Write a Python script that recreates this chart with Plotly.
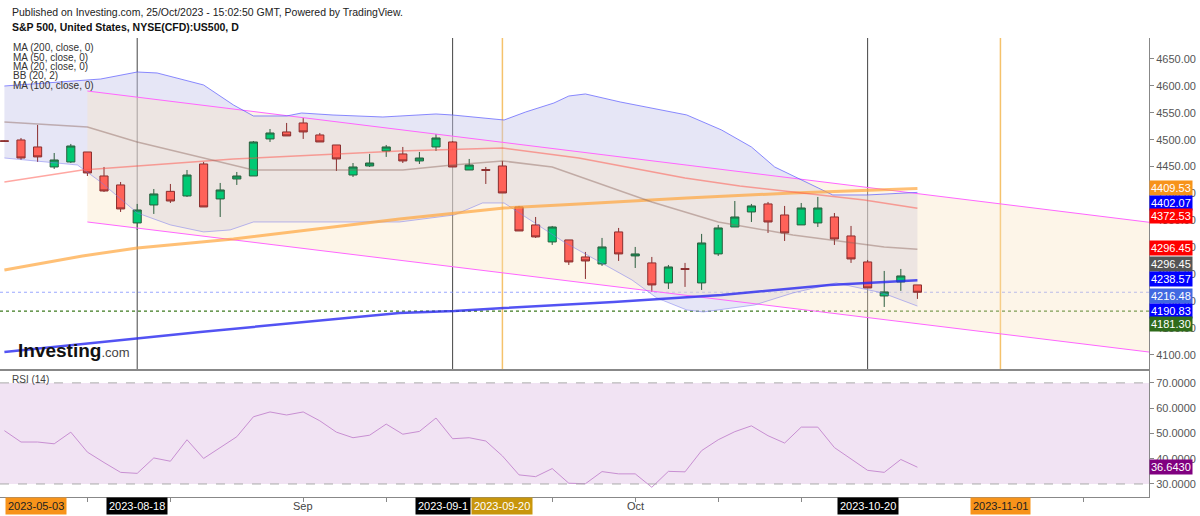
import plotly.graph_objects as go

# ---------------- data ----------------
idx = list(range(-1, 55))  # trading-day index, 7 = 2023-08-18
open_ = [4498.0, 4499.5, 4486.5, 4449.3, 4458.6, 4477.2, 4432.6, 4415.9, 4345.3, 4378.7, 4404.0,
         4395.4, 4454.9, 4389.9, 4427.0, 4432.6, 4501.4, 4514.4, 4531.1, 4508.8, 4490.2,
         4434.4, 4451.2, 4479.0, 4473.5, 4460.5, 4486.5, 4495.8, 4443.7, 4444.5, 4451.2,
         4375.0, 4341.6, 4310.0, 4313.7, 4282.1, 4269.1, 4328.6, 4284.0, 4271.0, 4233.8,
         4260.5, 4233.8, 4287.7, 4337.8, 4365.7, 4380.6, 4360.1, 4341.6, 4345.3, 4356.4,
         4321.1, 4272.8, 4209.6, 4235.6, 4230.1]
high = [4499.0, 4503.2, 4527.4, 4475.3, 4492.1, 4477.2, 4449.3, 4421.4, 4380.6, 4408.4, 4417.7,
        4443.7, 4458.6, 4419.6, 4440.0, 4497.6, 4519.9, 4531.1, 4540.4, 4512.5, 4490.2,
        4456.7, 4473.5, 4490.2, 4486.5, 4477.2, 4510.6, 4497.6, 4464.2, 4449.3, 4460.5,
        4376.9, 4356.4, 4339.7, 4313.7, 4291.4, 4317.4, 4336.0, 4300.7, 4282.1, 4267.2,
        4271.0, 4324.9, 4341.6, 4386.1, 4380.6, 4384.3, 4376.9, 4382.4, 4393.6, 4363.8,
        4339.7, 4276.5, 4256.1, 4259.8, 4230.1]
low = [4496.0, 4462.3, 4458.6, 4445.6, 4456.8, 4432.6, 4402.9, 4365.7, 4332.3, 4362.0, 4382.4,
       4393.6, 4375.0, 4356.4, 4415.9, 4432.6, 4495.8, 4507.0, 4501.4, 4495.8, 4441.9,
       4430.7, 4449.3, 4468.0, 4456.7, 4454.9, 4479.0, 4449.3, 4443.7, 4417.7, 4401.0,
       4330.4, 4317.4, 4304.4, 4267.2, 4241.2, 4265.4, 4274.6, 4261.6, 4217.1, 4222.6,
       4226.4, 4220.8, 4284.0, 4337.8, 4347.1, 4326.7, 4311.8, 4341.6, 4337.8, 4304.4,
       4271.0, 4224.5, 4189.2, 4219.0, 4204.1]
close = [4497.0, 4466.0, 4468.0, 4462.3, 4488.3, 4438.2, 4404.7, 4371.3, 4369.4, 4399.2, 4386.1,
         4434.4, 4375.0, 4406.6, 4432.6, 4495.8, 4512.5, 4507.0, 4514.4, 4495.8, 4464.2,
         4449.3, 4456.7, 4486.5, 4460.5, 4466.0, 4503.2, 4449.3, 4453.0, 4443.0, 4401.0,
         4330.4, 4319.3, 4337.8, 4272.8, 4274.6, 4300.7, 4287.7, 4287.7, 4230.1, 4263.5,
         4259.0, 4308.1, 4336.0, 4356.4, 4376.9, 4347.1, 4326.7, 4373.1, 4373.1, 4315.5,
         4278.4, 4224.5, 4217.1, 4246.8, 4216.48]

rsi = [51.1, 46.6, 46.6, 45.9, 50.5, 42.6, 38.5, 34.6, 34.2, 40.3, 39.0, 47.5, 40.1, 44.4, 48.7,
       56.6, 58.5, 57.3, 58.5, 55.0, 50.5, 48.3, 49.3, 53.7, 49.7, 50.8, 56.1, 47.9, 48.3, 47.0,
       41.1, 33.6, 32.9, 36.1, 30.3, 30.1, 34.9, 34.0, 34.0, 28.7, 35.0, 34.8, 43.2, 47.5, 50.7,
       53.0, 49.1, 46.2, 52.5, 52.5, 44.4, 39.9, 35.4, 34.6, 39.7, 36.643]

ma20_x = [-1, 4, 7, 11, 14, 23, 26, 29, 32, 38, 42, 46.5, 52, 54]
ma20_y = [4532.9, 4523.6, 4495.8, 4466.0, 4443.7, 4443.7, 4453.0, 4460.5, 4449.3, 4384.3, 4347.1,
          4323.0, 4300.7, 4296.45]
ma50_x = [-1, 3.7, 12.8, 22.8, 29, 33.6, 40, 43.3, 50.8, 54]
ma50_y = [4421.4, 4443.7, 4464.2, 4479.0, 4484.6, 4466.0, 4428.9, 4414.0, 4388.0, 4372.53]
ma200_x = [-1, 3.7, 7, 12.8, 22.8, 26.1, 29.1, 33.6, 40.1, 46.5, 54]
ma200_y = [4257.9, 4284.0, 4298.8, 4315.5, 4352.7, 4363.9, 4373.1, 4380.6, 4391.7, 4401.0, 4409.53]
ma100_x = [-1, 7, 10.8, 22.8, 26.1, 29.1, 35.7, 42.2, 48.7, 54]
ma100_y = [4105.6, 4131.6, 4142.7, 4178.0, 4181.8, 4187.3, 4198.5, 4211.5, 4230.1, 4238.57]
bbu_x = [-1, 4.8, 7, 8.2, 11, 12.8, 14, 16, 16.9, 18.8, 21.8, 25, 26, 29.1, 30.4, 32.1, 33, 34,
         36.1, 40.1, 42.2, 44, 45.4, 46.9, 48.9, 51, 54]
bbu_y = [4599.8, 4612.8, 4625.8, 4624.0, 4601.7, 4564.5, 4544.1, 4544.1, 4549.6, 4545.9, 4542.2,
         4547.8, 4545.9, 4536.6, 4551.5, 4568.2, 4581.2, 4585.0, 4570.1, 4546.0, 4518.1, 4486.5,
         4449.3, 4427.0, 4397.3, 4397.3, 4402.07]
bbl_x = [-1, 3.4, 4.8, 7, 9, 11, 12.6, 14, 22.8, 26.1, 27.8, 29.1, 32.7, 36.8, 38.3, 40.1, 41.1,
         44.2, 46.5, 49.1, 51.9, 54]
bbl_y = [4466.0, 4453.0, 4421.4, 4363.9, 4341.6, 4328.6, 4332.3, 4347.1, 4347.1, 4360.1, 4382.4,
         4382.4, 4310.0, 4239.4, 4205.9, 4183.6, 4179.9, 4192.9, 4215.2, 4233.8, 4215.2, 4190.83]

channel_x = [4, 68]
channel_upper = [4590.5, 4346.4]
channel_lower = [4347.1, 4105.2]

last_price = 4216.48
support = 4181.30

black_lines = [7, 26, 51]
orange_lines = [29, 59]

price_labels = [("4409.53", 4409.53, 0, "#f7931a"), ("4402.07", 4402.07, -11, "#0000ff"),
                ("4372.53", 4372.53, -8, "#ff0000"), ("4296.45", 4296.45, 1, "#ff0000"),
                ("4296.45", 4296.45, -15, "#555555"), ("4238.57", 4238.57, 1, "#0000ff"),
                ("4216.48", 4216.48, -4, "#4169e1"), ("4190.83", 4190.83, -5, "#0000ff"),
                ("4181.30", 4181.30, -13, "#2e6b1a")]
date_labels = [("2023-05-03", None, "#f7931a", "#222"), ("2023-08-18", 7, "#000000", "white"),
               ("Sep", 17, None, "#444"), ("2023-09-1", 25.4, "#000000", "white"),
               ("2023-09-20", 29, "#c8960c", "white"), ("Oct", 37, None, "#444"),
               ("2023-10-20", 51, "#000000", "white"), ("2023-11-01", 59, "#f7931a", "#222")]
xticks = [4, 7, 9, 17, 22, 26, 29, 32, 37, 42, 47, 51, 59, 64]
legend_lines = ["MA (200, close, 0)", "MA (50, close, 0)", "MA (20, close, 0)", "BB (20, 2)",
                "MA (100, close, 0)"]

# ---------------- figure ----------------
W, H = 1200, 516
R = 51
PW = W - R
def py(p):
    return 1 - p / H

def poly_path(xs, ys):
    pts = " L ".join(f"{a},{b}" for a, b in zip(xs, ys))
    return "M " + pts + " Z"

fig = go.Figure()

for xs, ys in [(channel_x, channel_upper), (channel_x, channel_lower)]:
    fig.add_trace(go.Scatter(x=xs, y=ys, mode="lines", line=dict(color="#ff66ff", width=1)))
fig.add_trace(go.Scatter(x=bbu_x, y=bbu_y, mode="lines", line=dict(color="rgba(90,90,255,0.7)", width=1)))
fig.add_trace(go.Scatter(x=bbl_x, y=bbl_y, mode="lines", line=dict(color="rgba(120,120,240,0.5)", width=1)))
fig.add_trace(go.Scatter(x=ma200_x, y=ma200_y, mode="lines", line=dict(color="rgba(255,165,60,0.7)", width=3)))
fig.add_trace(go.Scatter(x=ma100_x, y=ma100_y, mode="lines", line=dict(color="rgba(40,40,240,0.8)", width=2.5)))
fig.add_trace(go.Scatter(x=ma50_x, y=ma50_y, mode="lines", line=dict(color="rgba(255,80,70,0.5)", width=1.5)))
fig.add_trace(go.Scatter(x=ma20_x, y=ma20_y, mode="lines", line=dict(color="rgba(140,100,90,0.45)", width=1.5)))

fig.add_trace(go.Candlestick(x=idx, open=open_, high=high, low=low, close=close, opacity=1,
                             increasing=dict(line=dict(color="#2c5e3e", width=1), fillcolor="#00c974"),
                             decreasing=dict(line=dict(color="#8a2e2e", width=1), fillcolor="#ff6259"),
                             whiskerwidth=0))

fig.add_trace(go.Scatter(x=idx, y=rsi, mode="lines", line=dict(color="#c88fd2", width=1),
                         xaxis="x2", yaxis="y2"))

shapes = []
shapes.append(dict(type="path", xref="x", yref="y", layer="below",
                   path=poly_path(bbu_x + bbl_x[::-1], bbu_y + bbl_y[::-1]),
                   fillcolor="rgba(200,200,235,0.45)", line=dict(width=0)))
shapes.append(dict(type="path", xref="x", yref="y", layer="below",
                   path=poly_path(channel_x + channel_x[::-1], channel_upper + channel_lower[::-1]),
                   fillcolor="rgba(250,225,190,0.35)", line=dict(width=0)))
for v in black_lines:
    shapes.append(dict(type="line", xref="x", yref="y domain", x0=v, x1=v, y0=0, y1=1,
                       line=dict(color="#444", width=1), layer="below"))
for v in orange_lines:
    shapes.append(dict(type="line", xref="x", yref="y domain", x0=v, x1=v, y0=0, y1=1,
                       line=dict(color="#f5c26b", width=1.5), layer="below"))
shapes.append(dict(type="line", xref="x domain", yref="y", x0=0, x1=1, y0=last_price, y1=last_price,
                   line=dict(color="rgba(110,130,255,0.7)", width=1, dash="dot"), layer="below"))
shapes.append(dict(type="line", xref="x domain", yref="y", x0=0, x1=1, y0=support, y1=support,
                   line=dict(color="#3d7a1e", width=1.3, dash="dot"), layer="below"))
shapes.append(dict(type="rect", xref="x2 domain", yref="y2", x0=0, x1=1, y0=30, y1=70,
                   fillcolor="#f1e3f3", line=dict(width=0), layer="below"))
for v in [30, 70]:
    shapes.append(dict(type="line", xref="x2 domain", yref="y2", x0=0, x1=1, y0=v, y1=v,
                       line=dict(color="#aaaaaa", width=1, dash="dash")))

ann = []
ann.append(dict(text="Published on Investing.com, 25/Oct/2023 - 15:02:50 GMT, Powered by TradingView.",
                xref="paper", yref="paper", x=10 / PW, y=py(12), xanchor="left", yanchor="middle",
                showarrow=False, font=dict(size=10.5, color="#222")))
ann.append(dict(text="<b>S&P 500, United States, NYSE(CFD):US500, D</b>",
                xref="paper", yref="paper", x=10 / PW, y=py(27), xanchor="left", yanchor="middle",
                showarrow=False, font=dict(size=10.5, color="#111")))
for i, t in enumerate(legend_lines):
    ann.append(dict(text=t, xref="paper", yref="paper", x=11 / PW, y=py(48 + 9.3 * i),
                    xanchor="left", yanchor="middle", showarrow=False, font=dict(size=10, color="#333")))
ann.append(dict(text="<b>Investing</b><span style='font-size:13px;color:#444'>.com</span>",
                xref="paper", yref="paper", x=16 / PW, y=py(350), xanchor="left", yanchor="middle",
                showarrow=False, font=dict(size=19, color="#111", family="Liberation Sans")))
ann.append(dict(text="RSI (14)", xref="paper", yref="paper", x=10 / PW, y=py(379), xanchor="left",
                yanchor="middle", showarrow=False, font=dict(size=10, color="#444")))
for t, v, sh, c in price_labels:
    ann.append(dict(text=t, xref="paper", yref="y", x=1.0, y=v, yshift=sh, xanchor="left",
                    yanchor="middle", showarrow=False, bgcolor=c, borderpad=1,
                    font=dict(size=11, color="white")))
ann.append(dict(text="36.6430", xref="paper", yref="y2", x=1.0, y=rsi[-1], xanchor="left",
                yanchor="middle", showarrow=False, bgcolor="#800080", borderpad=1,
                font=dict(size=11, color="white")))
for t, v, bg, fc in date_labels:
    d = dict(text=t, yref="paper", y=py(506), yanchor="middle", showarrow=False,
             font=dict(size=11, color=fc), borderpad=2)
    if bg:
        d["bgcolor"] = bg
    if v is None:
        d.update(xref="paper", x=5 / PW, xanchor="left")
    else:
        d.update(xref="x2", x=v, xanchor="center")
    ann.append(d)

xr = [-1.265, 67.95]
fig.update_layout(
    width=W, height=H, margin=dict(l=0, r=R, t=0, b=0), showlegend=False,
    paper_bgcolor="white", plot_bgcolor="white",
    font=dict(family="Liberation Sans, Arial, sans-serif"),
    shapes=shapes, annotations=ann,
    xaxis=dict(domain=[0, 1], range=xr, anchor="y", showticklabels=False, showgrid=False,
               zeroline=False, showline=True, linecolor="#888", ticks="", rangeslider=dict(visible=False)),
    yaxis=dict(domain=[py(370), py(38)], range=[4072, 4689], side="right", showgrid=False,
               zeroline=False, showline=True, linecolor="#888", ticks="outside", ticklen=4,
               tickcolor="#888", dtick=50, tick0=4100, tickformat=".2f",
               tickfont=dict(size=11, color="#555")),
    xaxis2=dict(domain=[0, 1], range=xr, anchor="y2", showticklabels=False, showgrid=False,
                zeroline=False, showline=True, linecolor="#888", mirror=True, ticks="outside",
                ticklen=4, tickcolor="#888", tickvals=xticks),
    yaxis2=dict(domain=[py(497), py(370)], range=[24.85, 75.1], side="right", anchor="x2",
                showgrid=False, zeroline=False, showline=True, linecolor="#888", mirror=True,
                ticks="outside", ticklen=4, tickcolor="#888", tickvals=[30, 40, 50, 60, 70],
                tickformat=".4f", tickfont=dict(size=11, color="#555")),
)
fig.write_html("out.html", config={"displayModeBar": False},
               post_script="document.body.style.margin='0';document.body.style.overflow='hidden';")
